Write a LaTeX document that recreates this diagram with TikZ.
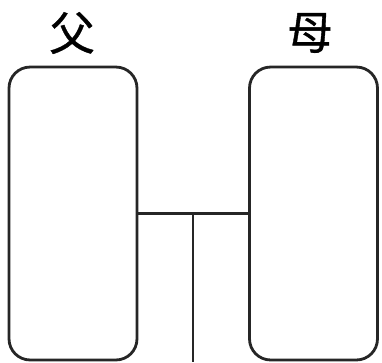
\documentclass[tikz,border=0pt]{standalone}
\usepackage{fontspec}
\newfontfamily\cjk[FakeBold=0.8]{Noto Sans CJK SC}
\usetikzlibrary{positioning}

\tikzset{
  parentbox/.style={draw=black!85, line width=1.6pt, rounded corners=12pt, minimum width=2.56cm, minimum height=5.86cm, inner sep=0pt},
  parentlabel/.style={font=\cjk\fontsize{26}{26}\selectfont, inner sep=0pt}
}

\begin{document}
\begin{tikzpicture}[x=0.02cm, y=-0.02cm]
            \useasboundingbox (0, 0) rectangle (382, 362);
            \node[parentbox] (father) at (73, 213.5) {};
            \node[parentbox] (mother) at (313.5, 213.5) {};
            \node[parentlabel] (fatherlabel) at (72, 33) {父};
            \node[parentlabel] (motherlabel) at (310, 33) {母};

            \coordinate (junction) at (193, 214);
            \coordinate (child) at (193, 362);

            \draw[black!85, line width=1.6pt] (father) -- (mother);
            \draw[black!85, line width=1.6pt] (junction) -- (child);
        \end{tikzpicture}
\end{document}
